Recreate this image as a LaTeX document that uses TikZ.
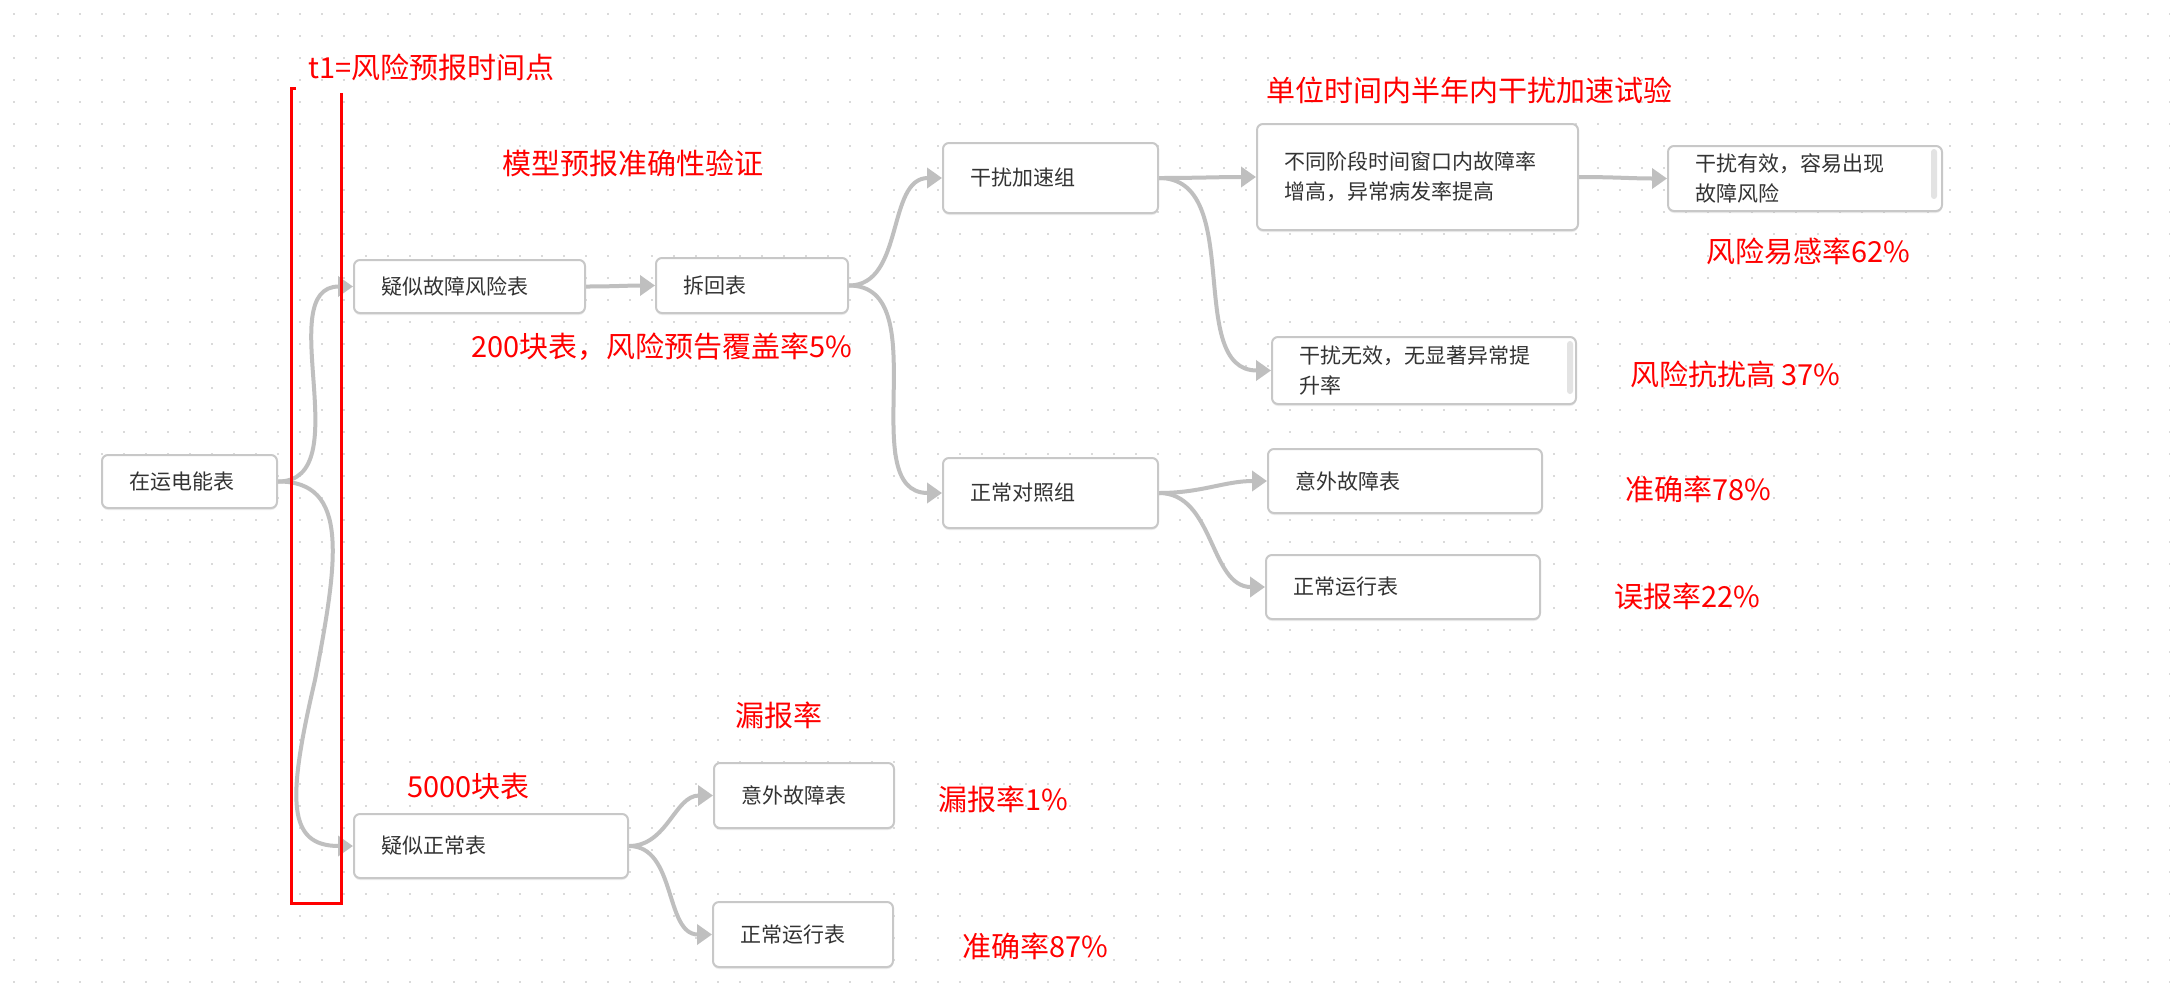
\documentclass[tikz,border=0pt]{standalone}
\usepackage{fontspec}
\newfontfamily\cjk{Noto Sans CJK SC}
\usetikzlibrary{arrows.meta,shadows}

\definecolor{linkgray}{HTML}{BFBFBF}
\definecolor{boxgray}{HTML}{C8C8C8}
\definecolor{dotgray}{HTML}{DADADA}
\definecolor{textgray}{HTML}{333333}
\definecolor{notered}{HTML}{FF0000}
\definecolor{bargray}{HTML}{E3E3E3}

\begin{document}
\begin{tikzpicture}[x=1pt,y=-1pt,
    >={Triangle[length=15pt,width=20pt]},
    box/.style={draw=boxgray,line width=2pt,rounded corners=6pt,fill=white,
      inner xsep=27pt,inner ysep=0pt,align=left,text=textgray,
      font=\cjk\fontsize{21}{30}\selectfont,
      drop shadow={shadow xshift=0pt,shadow yshift=-2pt,opacity=0.15}},
    note/.style={anchor=west,inner sep=0pt,text=notered,
      font=\cjk\fontsize{29}{34}\selectfont},
    link/.style={draw=linkgray,line width=4pt,->,out=0,in=180}]

  % canvas with dot grid
  \fill[white] (0,0) rectangle (2170,989);
  \useasboundingbox (0,0) rectangle (2170,989);
  \foreach \r in {0,...,44}
    \draw[dotgray,line width=2pt,dash pattern=on 2pt off 20pt]
      (13,{14+22*\r}) -- (2170,{14+22*\r});

  \node[box,text width=121pt,minimum height=53pt] (zaiyun) at (189.5,481.5) {在运电能表};
  \node[box,text width=177pt,minimum height=53pt] (yisigz) at (469.5,286.5) {疑似故障风险表};
  \node[box,text width=138pt,minimum height=55pt] (chaihui) at (752,285.5) {拆回表};
  \node[box,text width=161pt,minimum height=70pt] (ganrao) at (1050.5,178) {干扰加速组};
  \node[box,text width=161pt,minimum height=70pt] (duizhao) at (1050.5,493) {正常对照组};
  \node[box,text width=267pt,minimum height=106pt] (butong) at (1417.5,177)
    {不同阶段时间窗口内故障率\\增高，异常病发率提高};
  \node[box,text width=220pt,minimum height=65pt] (youxiao) at (1805,178.5)
    {干扰有效，容易出现\\故障风险};
  \node[box,text width=250pt,minimum height=67pt] (wuxiao) at (1424,370.5)
    {干扰无效，无显著异常提\\升率};
  \node[box,text width=220pt,minimum height=64pt] (yiwaiA) at (1405,481) {意外故障表};
  \node[box,text width=220pt,minimum height=64pt] (zhengA) at (1403,587) {正常运行表};
  \node[box,text width=220pt,minimum height=64pt] (yisizc) at (491,846) {疑似正常表};
  \node[box,text width=126pt,minimum height=65pt] (yiwaiB) at (804,795.5) {意外故障表};
  \node[box,text width=126pt,minimum height=65pt] (zhengB) at (803,934.5) {正常运行表};

  % scroll bars
  \fill[bargray,rounded corners=3pt] ([shift={(-12,4)}]youxiao.north east)
    rectangle ([shift={(-6,54)}]youxiao.north east);
  \fill[bargray,rounded corners=3pt] ([shift={(-10,5)}]wuxiao.north east)
    rectangle ([shift={(-4,58)}]wuxiao.north east);

  \path (zaiyun) edge[link] (yisigz)
        (yisigz) edge[link] (chaihui)
        (chaihui) edge[link] (ganrao)
                  edge[link] (duizhao)
        (ganrao) edge[link] (butong)
                 edge[link] (wuxiao)
        (butong) edge[link] (youxiao)
        (duizhao) edge[link] (yiwaiA)
                  edge[link] (zhengA)
        (yisizc) edge[link] (yiwaiB)
                 edge[link] (zhengB);
  \draw[link] (zaiyun.east) .. controls (350,481) and (338,560) .. (315,680)
    .. controls (287,800) and (287,846) .. (yisizc.west);

  % time point bracket
  \draw[notered,line width=3pt] (296,88) -- (291,88) -- (291,903) -- (341,903) -- (341,93);

  \node[note] (t1note) at (308,67) {t1=风险预报时间点};
  \node[note] (yanzheng) at (502,163) {模型预报准确性验证};
  \node[note] (shiyan) at (1266,90) {单位时间内半年内干扰加速试验};
  \node[note] (fugai) at (471,347) {200块表，风险预告覆盖率5\%};
  \node[note] (yigan) at (1706,251) {风险易感率62\%};
  \node[note] (kangrao) at (1630,374) {风险抗扰高 37\%};
  \node[note] (zhunA) at (1625,489) {准确率78\%};
  \node[note] (wubao) at (1614,596) {误报率22\%};
  \node[note] (loubao) at (735,715) {漏报率};
  \node[note] (kuai) at (407,786) {5000块表};
  \node[note] (loubaoB) at (938,799) {漏报率1\%};
  \node[note] (zhunB) at (962,946) {准确率87\%};
\end{tikzpicture}
\end{document}
